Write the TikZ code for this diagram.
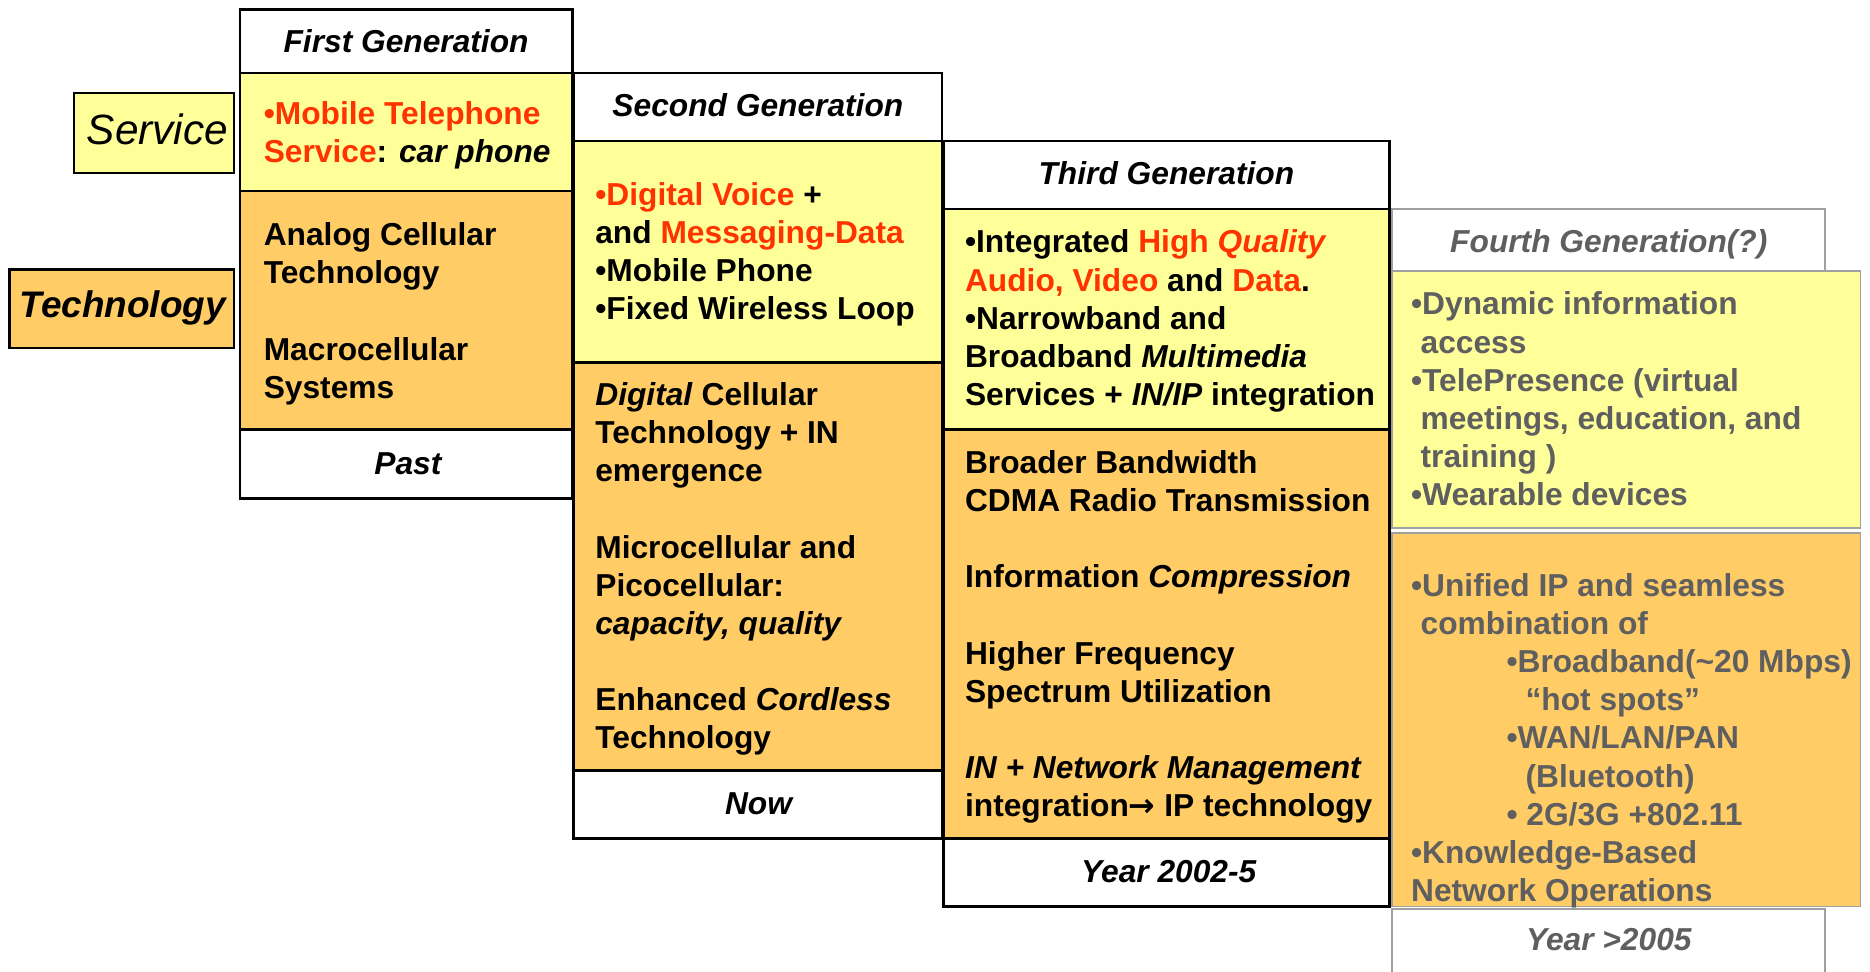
\documentclass[tikz,border=0pt]{standalone}
\usepackage{fontspec}
\setmainfont{Liberation Sans}
\newfontfamily\arrowfont{DejaVu Sans}
\definecolor{yel}{HTML}{FFFF99}
\definecolor{org}{HTML}{FFCC66}
\definecolor{rd}{HTML}{FF3300}
\definecolor{gt}{HTML}{5F5F5F}
\definecolor{gb}{HTML}{A0A0A0}
\newcommand{\rt}[1]{\textcolor{rd}{#1}}
\begin{document}
\begin{tikzpicture}[x=1pt,y=-1pt,
  bk/.style={draw=black,line width=2pt},
  gy/.style={draw=gb,line width=1.5pt},
  yf/.style={fill=yel}, of/.style={fill=org},
  txt/.style={inner sep=0pt,anchor=base west,font=\fontsize{26.6}{32}\selectfont\bfseries},
  ctr/.style={inner sep=0pt,anchor=base,font=\fontsize{26.6}{32}\selectfont\bfseries\itshape}]
\useasboundingbox (0,0) rectangle (1568,815);
% side labels
\draw[bk,yf] (62,78) rectangle (196,145);
\node[inner sep=0pt,anchor=base,font=\fontsize{35.5}{40}\selectfont\itshape] (svc) at (132,121) {Service};
\draw[bk,of] (8,226) rectangle (196,292);
\node[inner sep=0pt,anchor=base,font=\fontsize{31}{36}\selectfont\bfseries\itshape] (tec) at (103,266) {Technology};
% column 1
\draw[bk,fill=white] (201,8) rectangle (480,61);
\draw[bk,yf] (201,61) rectangle (480,160);
\draw[bk,of] (201,160) rectangle (480,360);
\draw[bk,fill=white] (201,360) rectangle (480,418);
% column 2
\draw[bk,fill=white] (481,61) rectangle (790,118);
\draw[bk,yf] (481,118) rectangle (790,304);
\draw[bk,of] (481,304) rectangle (790,646);
\draw[bk,fill=white] (481,646) rectangle (790,703);
% column 3
\draw[bk,fill=white] (791,118) rectangle (1165,175);
\draw[bk,yf] (791,175) rectangle (1165,360);
\draw[bk,of] (791,360) rectangle (1165,703);
\draw[bk,fill=white] (791,703) rectangle (1165,760);
% column 4
\draw[gy,fill=white] (1167,175) rectangle (1530,227);
\draw[gy,yf] (1167,227) rectangle (1560,443);
\draw[gy,of] (1167,447) rectangle (1560,760);
\draw[gy] (1167,820) -- (1167,762) -- (1530,762) -- (1530,820);
% headers and footers
\node[ctr] (h1) at (340.5,44) {First Generation};
\node[ctr] (f1) at (342,398) {Past};
\node[ctr] (h2) at (635.5,98) {Second Generation};
\node[ctr] (f2) at (636,683) {Now};
\node[ctr] (h3) at (978,155) {Third Generation};
\node[ctr] (f3) at (980,740) {Year 2002-5};
\node[ctr,text=gt] (h4) at (1349,212) {Fourth Generation(?)};
\node[ctr,text=gt] (f4) at (1349,797) {Year >2005};
% column 1 text
\node[txt] (s1) at (221,104) {\parbox[t]{260pt}{\rt{•Mobile Telephone}\\\rt{Service}: \textit{car phone}}};
\node[txt] (k1) at (221,206) {\parbox[t]{260pt}{Analog Cellular\\Technology\\[32pt]Macrocellular\\Systems}};
% column 2 text
\node[txt] (s2) at (499,172) {\parbox[t]{300pt}{\rt{•Digital Voice} +\\and \rt{Messaging-Data}\\•Mobile Phone\\•Fixed Wireless Loop}};
\node[txt] (k2) at (499,340) {\parbox[t]{300pt}{\textit{Digital} Cellular\\Technology + IN\\emergence\\[32pt]Microcellular and\\Picocellular:\\\textit{capacity, quality}\\[32pt]Enhanced \textit{Cordless}\\Technology}};
% column 3 text
\node[txt] (s3) at (809,212) {\parbox[t]{380pt}{•Integrated \rt{High \textit{Quality}}\\\rt{Audio, Video} and \rt{Data}.\\•Narrowband and\\Broadband \textit{Multimedia}\\Services + \textit{IN/IP} integration}};
\node[txt] (k3) at (809,397) {\parbox[t]{380pt}{Broader Bandwidth\\CDMA Radio Transmission\\[32pt]Information \textit{Compression}\\[32pt]Higher Frequency\\Spectrum Utilization\\[32pt]\textit{IN + Network Management}\\integration{\arrowfont\bfseries →} IP technology}};
% column 4 text
\node[txt,text=gt] (s4) at (1183,264) {\parbox[t]{400pt}{•Dynamic information\\\hspace*{8pt}access\\•TelePresence (virtual\\\hspace*{8pt}meetings, education, and\\\hspace*{8pt}training )\\•Wearable devices}};
\node[txt,text=gt] (k4) at (1183,500) {\parbox[t]{400pt}{•Unified IP and seamless\\\hspace*{8pt}combination of\\\hspace*{80pt}•Broadband(\textasciitilde20 Mbps)\\\hspace*{96pt}“hot spots”\\\hspace*{80pt}•WAN/LAN/PAN\\\hspace*{96pt}(Bluetooth)\\\hspace*{80pt}• 2G/3G +802.11\\•Knowledge-Based\\Network Operations}};
\end{tikzpicture}
\end{document}
